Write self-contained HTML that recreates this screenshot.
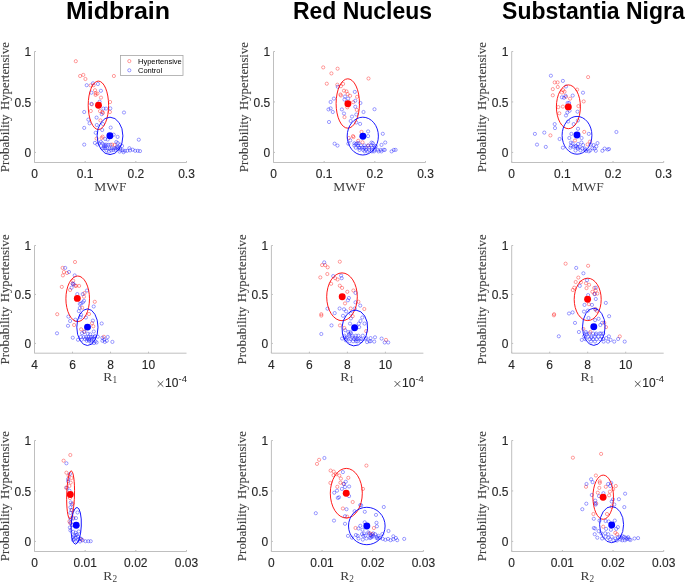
<!DOCTYPE html><html><head><meta charset="utf-8"><style>html,body{margin:0;padding:0;background:#fff;width:685px;height:583px;overflow:hidden}svg{display:block;filter:blur(0.3px)}</style></head><body><svg width="685" height="583" viewBox="0 0 685 583">
<g transform="translate(0 18.8) scale(1 1.035)"><text transform="translate(65.90 0.00) scale(1.087 1)" style="font-family:'Liberation Sans',sans-serif;font-size:23.0px;font-weight:bold;font-kerning:none" fill="#000">Midbrain</text></g>
<g transform="translate(0 18.8) scale(1 1.035)"><text x="292.90" y="0.00" style="font-family:'Liberation Sans',sans-serif;font-size:23.0px;font-weight:bold;font-kerning:none" fill="#000">Red Nucleus</text></g>
<g transform="translate(0 18.8) scale(1 1.035)"><text x="502.10" y="0.00" style="font-family:'Liberation Sans',sans-serif;font-size:23.0px;font-weight:bold;font-kerning:none" fill="#000">Substantia Nigra</text></g>
<path d="M34.5 51.5V162.5H186.5" fill="none" stroke="#bfbfbf" stroke-width="1"/>
<path d="M34.5 51.50h1.5" stroke="#bfbfbf" stroke-width="1"/>
<text transform="translate(24.61 56.40) scale(0.955 1)" style="font-family:'Liberation Sans',sans-serif;font-size:12.6px;font-weight:normal;font-kerning:none" fill="#262626" stroke="#262626" stroke-width="0.12">1</text>
<path d="M34.5 101.95h1.5" stroke="#bfbfbf" stroke-width="1"/>
<text transform="translate(14.57 106.85) scale(0.955 1)" style="font-family:'Liberation Sans',sans-serif;font-size:12.6px;font-weight:normal;font-kerning:none" fill="#262626" stroke="#262626" stroke-width="0.12">0.5</text>
<path d="M34.5 152.41h1.5" stroke="#bfbfbf" stroke-width="1"/>
<text transform="translate(24.61 157.31) scale(0.955 1)" style="font-family:'Liberation Sans',sans-serif;font-size:12.6px;font-weight:normal;font-kerning:none" fill="#262626" stroke="#262626" stroke-width="0.12">0</text>
<path d="M34.50 162.5v-1.5" stroke="#bfbfbf" stroke-width="1"/>
<text transform="translate(31.15 177.95) scale(0.955 1)" style="font-family:'Liberation Sans',sans-serif;font-size:12.6px;font-weight:normal;font-kerning:none" fill="#262626" stroke="#262626" stroke-width="0.12">0</text>
<path d="M85.17 162.5v-1.5" stroke="#bfbfbf" stroke-width="1"/>
<text transform="translate(76.80 177.95) scale(0.955 1)" style="font-family:'Liberation Sans',sans-serif;font-size:12.6px;font-weight:normal;font-kerning:none" fill="#262626" stroke="#262626" stroke-width="0.12">0.1</text>
<path d="M135.83 162.5v-1.5" stroke="#bfbfbf" stroke-width="1"/>
<text transform="translate(127.47 177.95) scale(0.955 1)" style="font-family:'Liberation Sans',sans-serif;font-size:12.6px;font-weight:normal;font-kerning:none" fill="#262626" stroke="#262626" stroke-width="0.12">0.2</text>
<path d="M186.50 162.5v-1.5" stroke="#bfbfbf" stroke-width="1"/>
<text transform="translate(178.14 177.95) scale(0.955 1)" style="font-family:'Liberation Sans',sans-serif;font-size:12.6px;font-weight:normal;font-kerning:none" fill="#262626" stroke="#262626" stroke-width="0.12">0.3</text>
<g transform="translate(9.00 107.00) rotate(-90)"><text x="-65.17" y="0.00" style="font-family:'Liberation Serif',serif;font-size:13.0px;font-weight:normal;font-kerning:none" fill="#404040" stroke="#404040" stroke-width="0.12">Probability</text><text transform="translate(-2.94 0.00) scale(0.98 1)" style="font-family:'Liberation Serif',serif;font-size:13.0px;font-weight:normal;font-kerning:none" fill="#404040" stroke="#404040" stroke-width="0.12">Hypertensive</text></g>
<text x="94.37" y="190.80" style="font-family:'Liberation Serif',serif;font-size:13.5px;font-weight:normal;font-kerning:none" fill="#404040">MWF</text>
<g fill="none" stroke="#ff0000" stroke-opacity="0.55" stroke-width="0.7"><circle cx="75.8" cy="61.2" r="1.6"/><circle cx="80.1" cy="76.0" r="1.6"/><circle cx="83.3" cy="74.9" r="1.6"/><circle cx="85.4" cy="79.0" r="1.6"/><circle cx="113.9" cy="76.0" r="1.6"/><circle cx="90.6" cy="85.4" r="1.6"/><circle cx="93.6" cy="85.2" r="1.6"/><circle cx="95.0" cy="90.2" r="1.6"/><circle cx="95.7" cy="93.2" r="1.6"/><circle cx="97.4" cy="93.6" r="1.6"/><circle cx="95.6" cy="94.9" r="1.6"/><circle cx="101.0" cy="97.6" r="1.6"/><circle cx="110.1" cy="102" r="1.6"/><circle cx="91.9" cy="104.3" r="1.6"/><circle cx="90.8" cy="111" r="1.6"/><circle cx="100" cy="111.1" r="1.6"/><circle cx="102.2" cy="112" r="1.6"/><circle cx="103" cy="112.9" r="1.6"/><circle cx="109.9" cy="112" r="1.6"/><circle cx="100.4" cy="120.4" r="1.6"/><circle cx="102.6" cy="136.7" r="1.6"/><circle cx="96.6" cy="138.6" r="1.6"/><circle cx="112" cy="144.6" r="1.6"/><circle cx="114.6" cy="145" r="1.6"/><circle cx="101.6" cy="138" r="1.6"/></g>
<g fill="none" stroke="#0000ff" stroke-opacity="0.55" stroke-width="0.7"><circle cx="86.7" cy="85.2" r="1.6"/><circle cx="93.0" cy="83.3" r="1.6"/><circle cx="97.9" cy="84.0" r="1.6"/><circle cx="91.4" cy="92.7" r="1.6"/><circle cx="100.9" cy="90.8" r="1.6"/><circle cx="99.6" cy="101.7" r="1.6"/><circle cx="91.4" cy="103.9" r="1.6"/><circle cx="103.4" cy="108.6" r="1.6"/><circle cx="106" cy="108.6" r="1.6"/><circle cx="110.3" cy="108.4" r="1.6"/><circle cx="84.2" cy="112" r="1.6"/><circle cx="101.7" cy="114.2" r="1.6"/><circle cx="96.6" cy="117.6" r="1.6"/><circle cx="88.4" cy="119.6" r="1.6"/><circle cx="89.6" cy="123.3" r="1.6"/><circle cx="96.8" cy="125" r="1.6"/><circle cx="103" cy="124" r="1.6"/><circle cx="84.2" cy="127.9" r="1.6"/><circle cx="110.7" cy="127.6" r="1.6"/><circle cx="102.2" cy="130" r="1.6"/><circle cx="95.7" cy="132.8" r="1.6"/><circle cx="113.7" cy="134.7" r="1.6"/><circle cx="117.6" cy="136.9" r="1.6"/><circle cx="105.2" cy="139" r="1.6"/><circle cx="107.7" cy="139.5" r="1.6"/><circle cx="94.9" cy="142.9" r="1.6"/><circle cx="97.4" cy="144.6" r="1.6"/><circle cx="84.2" cy="144.6" r="1.6"/><circle cx="116.3" cy="142" r="1.6"/><circle cx="100.8" cy="141.9" r="1.6"/><circle cx="99.4" cy="143.4" r="1.6"/><circle cx="102.3" cy="143.4" r="1.6"/><circle cx="108.1" cy="144.8" r="1.6"/><circle cx="110.3" cy="144.8" r="1.6"/><circle cx="138.8" cy="139.7" r="1.6"/><circle cx="106" cy="144.6" r="1.6"/><circle cx="102.4" cy="148.3" r="1.6"/><circle cx="105.3" cy="148.3" r="1.6"/><circle cx="107.5" cy="148.3" r="1.6"/><circle cx="109.7" cy="148.3" r="1.6"/><circle cx="111.9" cy="148.3" r="1.6"/><circle cx="114.1" cy="148.3" r="1.6"/><circle cx="115.9" cy="148.3" r="1.6"/><circle cx="117.7" cy="148.3" r="1.6"/><circle cx="119.9" cy="148.3" r="1.6"/><circle cx="111.1" cy="150.4" r="1.6"/><circle cx="113.3" cy="150" r="1.6"/><circle cx="115.5" cy="150" r="1.6"/><circle cx="122.1" cy="146" r="1.6"/><circle cx="120.6" cy="150" r="1.6"/><circle cx="122.8" cy="150.4" r="1.6"/><circle cx="125" cy="150.8" r="1.6"/><circle cx="127.2" cy="150.8" r="1.6"/><circle cx="129.4" cy="148.2" r="1.6"/><circle cx="130.1" cy="150.4" r="1.6"/><circle cx="132.7" cy="149.7" r="1.6"/><circle cx="135.2" cy="150.8" r="1.6"/><circle cx="137.8" cy="150.8" r="1.6"/><circle cx="140" cy="151.1" r="1.6"/><circle cx="123.5" cy="152.2" r="1.6"/><circle cx="117.7" cy="143.1" r="1.6"/><circle cx="104" cy="146.5" r="1.6"/><circle cx="106.5" cy="150.5" r="1.6"/><circle cx="109" cy="151.5" r="1.6"/><circle cx="124" cy="112.5" r="1.6"/><circle cx="120.2" cy="144.6" r="1.6"/><circle cx="117.0" cy="146.9" r="1.6"/><circle cx="103.6" cy="148.1" r="1.6"/><circle cx="104.0" cy="144.7" r="1.6"/><circle cx="105.5" cy="145.8" r="1.6"/><circle cx="119.6" cy="151.6" r="1.6"/><circle cx="118.2" cy="147.2" r="1.6"/></g>
<ellipse cx="98.4" cy="105.3" rx="10.2" ry="24.2" fill="none" stroke="#ff0000" stroke-width="0.9"/>
<ellipse cx="110.0" cy="135.9" rx="12.9" ry="18.7" fill="none" stroke="#0000ff" stroke-width="0.9"/>
<circle cx="98.5" cy="105.3" r="3.45" fill="#ff0000"/>
<circle cx="109.9" cy="135.8" r="3.45" fill="#0000ff"/>
<rect x="120.5" y="55.5" width="62.5" height="20" fill="#fff" stroke="#a6a6a6" stroke-width="0.8"/>
<circle cx="129.3" cy="61.1" r="1.6" fill="none" stroke="#ff0000" stroke-opacity="0.55" stroke-width="0.7"/>
<circle cx="129.3" cy="70.3" r="1.6" fill="none" stroke="#0000ff" stroke-opacity="0.55" stroke-width="0.7"/>
<text x="138.00" y="63.60" style="font-family:'Liberation Sans',sans-serif;font-size:7.5px;font-weight:normal;font-kerning:none" fill="#000">Hypertensive</text>
<text x="138.00" y="72.80" style="font-family:'Liberation Sans',sans-serif;font-size:7.5px;font-weight:normal;font-kerning:none" fill="#000">Control</text>
<path d="M273.5 51.5V162.5H425.5" fill="none" stroke="#bfbfbf" stroke-width="1"/>
<path d="M273.5 51.50h1.5" stroke="#bfbfbf" stroke-width="1"/>
<text transform="translate(263.61 56.40) scale(0.955 1)" style="font-family:'Liberation Sans',sans-serif;font-size:12.6px;font-weight:normal;font-kerning:none" fill="#262626" stroke="#262626" stroke-width="0.12">1</text>
<path d="M273.5 101.95h1.5" stroke="#bfbfbf" stroke-width="1"/>
<text transform="translate(253.57 106.85) scale(0.955 1)" style="font-family:'Liberation Sans',sans-serif;font-size:12.6px;font-weight:normal;font-kerning:none" fill="#262626" stroke="#262626" stroke-width="0.12">0.5</text>
<path d="M273.5 152.41h1.5" stroke="#bfbfbf" stroke-width="1"/>
<text transform="translate(263.61 157.31) scale(0.955 1)" style="font-family:'Liberation Sans',sans-serif;font-size:12.6px;font-weight:normal;font-kerning:none" fill="#262626" stroke="#262626" stroke-width="0.12">0</text>
<path d="M273.50 162.5v-1.5" stroke="#bfbfbf" stroke-width="1"/>
<text transform="translate(270.15 177.95) scale(0.955 1)" style="font-family:'Liberation Sans',sans-serif;font-size:12.6px;font-weight:normal;font-kerning:none" fill="#262626" stroke="#262626" stroke-width="0.12">0</text>
<path d="M324.17 162.5v-1.5" stroke="#bfbfbf" stroke-width="1"/>
<text transform="translate(315.80 177.95) scale(0.955 1)" style="font-family:'Liberation Sans',sans-serif;font-size:12.6px;font-weight:normal;font-kerning:none" fill="#262626" stroke="#262626" stroke-width="0.12">0.1</text>
<path d="M374.83 162.5v-1.5" stroke="#bfbfbf" stroke-width="1"/>
<text transform="translate(366.47 177.95) scale(0.955 1)" style="font-family:'Liberation Sans',sans-serif;font-size:12.6px;font-weight:normal;font-kerning:none" fill="#262626" stroke="#262626" stroke-width="0.12">0.2</text>
<path d="M425.50 162.5v-1.5" stroke="#bfbfbf" stroke-width="1"/>
<text transform="translate(417.14 177.95) scale(0.955 1)" style="font-family:'Liberation Sans',sans-serif;font-size:12.6px;font-weight:normal;font-kerning:none" fill="#262626" stroke="#262626" stroke-width="0.12">0.3</text>
<g transform="translate(248.00 107.00) rotate(-90)"><text x="-65.17" y="0.00" style="font-family:'Liberation Serif',serif;font-size:13.0px;font-weight:normal;font-kerning:none" fill="#404040" stroke="#404040" stroke-width="0.12">Probability</text><text transform="translate(-2.94 0.00) scale(0.98 1)" style="font-family:'Liberation Serif',serif;font-size:13.0px;font-weight:normal;font-kerning:none" fill="#404040" stroke="#404040" stroke-width="0.12">Hypertensive</text></g>
<text x="333.37" y="190.80" style="font-family:'Liberation Serif',serif;font-size:13.5px;font-weight:normal;font-kerning:none" fill="#404040">MWF</text>
<g fill="none" stroke="#ff0000" stroke-opacity="0.55" stroke-width="0.7"><circle cx="323.2" cy="67.4" r="1.6"/><circle cx="337.6" cy="68.7" r="1.6"/><circle cx="331.4" cy="73.4" r="1.6"/><circle cx="326.8" cy="83.7" r="1.6"/><circle cx="368.5" cy="78.5" r="1.6"/><circle cx="337.3" cy="84.7" r="1.6"/><circle cx="340.9" cy="86.2" r="1.6"/><circle cx="343.1" cy="83.9" r="1.6"/><circle cx="344" cy="90.7" r="1.6"/><circle cx="346.5" cy="91.4" r="1.6"/><circle cx="347.6" cy="94" r="1.6"/><circle cx="350.1" cy="95.8" r="1.6"/><circle cx="340.4" cy="94.5" r="1.6"/><circle cx="340.9" cy="95.5" r="1.6"/><circle cx="357.1" cy="96.8" r="1.6"/><circle cx="353.2" cy="102.2" r="1.6"/><circle cx="356.8" cy="109.9" r="1.6"/><circle cx="344.5" cy="117.1" r="1.6"/><circle cx="347.3" cy="107.3" r="1.6"/><circle cx="353" cy="136.1" r="1.6"/><circle cx="353.5" cy="137.1" r="1.6"/><circle cx="348.8" cy="138" r="1.6"/><circle cx="361.5" cy="131.9" r="1.6"/><circle cx="358.2" cy="140.8" r="1.6"/><circle cx="362.5" cy="142.3" r="1.6"/><circle cx="368.1" cy="145.6" r="1.6"/></g>
<g fill="none" stroke="#0000ff" stroke-opacity="0.55" stroke-width="0.7"><circle cx="337.8" cy="86.8" r="1.6"/><circle cx="354.8" cy="91.9" r="1.6"/><circle cx="345" cy="96.5" r="1.6"/><circle cx="348.1" cy="98.6" r="1.6"/><circle cx="344.5" cy="99.6" r="1.6"/><circle cx="333.9" cy="98.6" r="1.6"/><circle cx="330.6" cy="102" r="1.6"/><circle cx="355.3" cy="100.7" r="1.6"/><circle cx="360.4" cy="103" r="1.6"/><circle cx="355.3" cy="106.8" r="1.6"/><circle cx="328.5" cy="109.4" r="1.6"/><circle cx="330.6" cy="108.4" r="1.6"/><circle cx="332.8" cy="112" r="1.6"/><circle cx="341.9" cy="109.4" r="1.6"/><circle cx="344" cy="113.5" r="1.6"/><circle cx="363.5" cy="112" r="1.6"/><circle cx="356.3" cy="114.5" r="1.6"/><circle cx="352" cy="116.6" r="1.6"/><circle cx="374.5" cy="109.2" r="1.6"/><circle cx="329" cy="122" r="1.6"/><circle cx="350.7" cy="121" r="1.6"/><circle cx="356.3" cy="122.5" r="1.6"/><circle cx="360.1" cy="123.9" r="1.6"/><circle cx="368.1" cy="131.4" r="1.6"/><circle cx="368.1" cy="136.1" r="1.6"/><circle cx="350.2" cy="140.4" r="1.6"/><circle cx="334.6" cy="143.7" r="1.6"/><circle cx="337.5" cy="145.6" r="1.6"/><circle cx="348.3" cy="143.7" r="1.6"/><circle cx="372.8" cy="143.2" r="1.6"/><circle cx="382.8" cy="133.8" r="1.6"/><circle cx="393.8" cy="149.9" r="1.6"/><circle cx="391.6" cy="151.4" r="1.6"/><circle cx="395.6" cy="149.9" r="1.6"/><circle cx="384.8" cy="149.9" r="1.6"/><circle cx="354.4" cy="143.3" r="1.6"/><circle cx="357.3" cy="143.3" r="1.6"/><circle cx="354.4" cy="145.5" r="1.6"/><circle cx="358" cy="145.5" r="1.6"/><circle cx="361" cy="145.5" r="1.6"/><circle cx="364.6" cy="145.5" r="1.6"/><circle cx="368.2" cy="145.5" r="1.6"/><circle cx="371.2" cy="145.5" r="1.6"/><circle cx="355.8" cy="147.7" r="1.6"/><circle cx="358.8" cy="147.7" r="1.6"/><circle cx="362.4" cy="147.7" r="1.6"/><circle cx="365.3" cy="147.7" r="1.6"/><circle cx="369" cy="147.7" r="1.6"/><circle cx="371.9" cy="147.7" r="1.6"/><circle cx="374.8" cy="147.7" r="1.6"/><circle cx="359.5" cy="149.9" r="1.6"/><circle cx="363.1" cy="149.9" r="1.6"/><circle cx="366.1" cy="149.9" r="1.6"/><circle cx="369" cy="149.9" r="1.6"/><circle cx="371.9" cy="149.9" r="1.6"/><circle cx="374.8" cy="149.9" r="1.6"/><circle cx="377.7" cy="149.9" r="1.6"/><circle cx="380.7" cy="149.9" r="1.6"/><circle cx="383.6" cy="149.9" r="1.6"/><circle cx="364.6" cy="151.4" r="1.6"/><circle cx="367.5" cy="151.4" r="1.6"/><circle cx="371.9" cy="151.4" r="1.6"/><circle cx="374.1" cy="151.4" r="1.6"/><circle cx="378.5" cy="151.4" r="1.6"/><circle cx="381.4" cy="151.4" r="1.6"/><circle cx="385.2" cy="142.5" r="1.6"/><circle cx="381.5" cy="144.9" r="1.6"/><circle cx="358.6" cy="143.2" r="1.6"/><circle cx="359.8" cy="147.8" r="1.6"/><circle cx="374.4" cy="145.7" r="1.6"/><circle cx="371.5" cy="142.6" r="1.6"/><circle cx="355.9" cy="144.1" r="1.6"/><circle cx="375.8" cy="146.3" r="1.6"/><circle cx="364.1" cy="147.9" r="1.6"/></g>
<ellipse cx="347.8" cy="103.5" rx="11.7" ry="24.7" fill="none" stroke="#ff0000" stroke-width="0.9"/>
<ellipse cx="362.8" cy="136.1" rx="15.6" ry="18.9" fill="none" stroke="#0000ff" stroke-width="0.9"/>
<circle cx="347.9" cy="103.7" r="3.45" fill="#ff0000"/>
<circle cx="362.9" cy="136.2" r="3.45" fill="#0000ff"/>
<path d="M511.7 51.5V162.5H663.7" fill="none" stroke="#bfbfbf" stroke-width="1"/>
<path d="M511.7 51.50h1.5" stroke="#bfbfbf" stroke-width="1"/>
<text transform="translate(501.81 56.40) scale(0.955 1)" style="font-family:'Liberation Sans',sans-serif;font-size:12.6px;font-weight:normal;font-kerning:none" fill="#262626" stroke="#262626" stroke-width="0.12">1</text>
<path d="M511.7 101.95h1.5" stroke="#bfbfbf" stroke-width="1"/>
<text transform="translate(491.77 106.85) scale(0.955 1)" style="font-family:'Liberation Sans',sans-serif;font-size:12.6px;font-weight:normal;font-kerning:none" fill="#262626" stroke="#262626" stroke-width="0.12">0.5</text>
<path d="M511.7 152.41h1.5" stroke="#bfbfbf" stroke-width="1"/>
<text transform="translate(501.81 157.31) scale(0.955 1)" style="font-family:'Liberation Sans',sans-serif;font-size:12.6px;font-weight:normal;font-kerning:none" fill="#262626" stroke="#262626" stroke-width="0.12">0</text>
<path d="M511.70 162.5v-1.5" stroke="#bfbfbf" stroke-width="1"/>
<text transform="translate(508.35 177.95) scale(0.955 1)" style="font-family:'Liberation Sans',sans-serif;font-size:12.6px;font-weight:normal;font-kerning:none" fill="#262626" stroke="#262626" stroke-width="0.12">0</text>
<path d="M562.37 162.5v-1.5" stroke="#bfbfbf" stroke-width="1"/>
<text transform="translate(554.00 177.95) scale(0.955 1)" style="font-family:'Liberation Sans',sans-serif;font-size:12.6px;font-weight:normal;font-kerning:none" fill="#262626" stroke="#262626" stroke-width="0.12">0.1</text>
<path d="M613.03 162.5v-1.5" stroke="#bfbfbf" stroke-width="1"/>
<text transform="translate(604.67 177.95) scale(0.955 1)" style="font-family:'Liberation Sans',sans-serif;font-size:12.6px;font-weight:normal;font-kerning:none" fill="#262626" stroke="#262626" stroke-width="0.12">0.2</text>
<path d="M663.70 162.5v-1.5" stroke="#bfbfbf" stroke-width="1"/>
<text transform="translate(655.34 177.95) scale(0.955 1)" style="font-family:'Liberation Sans',sans-serif;font-size:12.6px;font-weight:normal;font-kerning:none" fill="#262626" stroke="#262626" stroke-width="0.12">0.3</text>
<g transform="translate(486.20 107.00) rotate(-90)"><text x="-65.17" y="0.00" style="font-family:'Liberation Serif',serif;font-size:13.0px;font-weight:normal;font-kerning:none" fill="#404040" stroke="#404040" stroke-width="0.12">Probability</text><text transform="translate(-2.94 0.00) scale(0.98 1)" style="font-family:'Liberation Serif',serif;font-size:13.0px;font-weight:normal;font-kerning:none" fill="#404040" stroke="#404040" stroke-width="0.12">Hypertensive</text></g>
<text x="571.57" y="190.80" style="font-family:'Liberation Serif',serif;font-size:13.5px;font-weight:normal;font-kerning:none" fill="#404040">MWF</text>
<g fill="none" stroke="#ff0000" stroke-opacity="0.55" stroke-width="0.7"><circle cx="588.1" cy="77.1" r="1.6"/><circle cx="554.7" cy="82.4" r="1.6"/><circle cx="557.6" cy="82.4" r="1.6"/><circle cx="557.8" cy="87" r="1.6"/><circle cx="552.8" cy="89.1" r="1.6"/><circle cx="552.8" cy="95.3" r="1.6"/><circle cx="563.1" cy="90.1" r="1.6"/><circle cx="564.5" cy="91.7" r="1.6"/><circle cx="561.9" cy="92.5" r="1.6"/><circle cx="577.1" cy="89.6" r="1.6"/><circle cx="570.1" cy="98.7" r="1.6"/><circle cx="566" cy="96.8" r="1.6"/><circle cx="583.7" cy="101.4" r="1.6"/><circle cx="558.3" cy="107.1" r="1.6"/><circle cx="562.9" cy="106.6" r="1.6"/><circle cx="578.4" cy="106.1" r="1.6"/><circle cx="559.3" cy="113.3" r="1.6"/><circle cx="550.4" cy="135.4" r="1.6"/><circle cx="584.2" cy="131.9" r="1.6"/><circle cx="575" cy="140.5" r="1.6"/><circle cx="587.6" cy="144.4" r="1.6"/><circle cx="590" cy="141.6" r="1.6"/></g>
<g fill="none" stroke="#0000ff" stroke-opacity="0.55" stroke-width="0.7"><circle cx="550.9" cy="75.7" r="1.6"/><circle cx="562.9" cy="80.9" r="1.6"/><circle cx="566" cy="86.5" r="1.6"/><circle cx="583" cy="92.7" r="1.6"/><circle cx="572.7" cy="95.6" r="1.6"/><circle cx="561.9" cy="97.3" r="1.6"/><circle cx="564" cy="97.8" r="1.6"/><circle cx="565.5" cy="95.8" r="1.6"/><circle cx="567.6" cy="103" r="1.6"/><circle cx="569.1" cy="103" r="1.6"/><circle cx="569.6" cy="110.7" r="1.6"/><circle cx="567.3" cy="112.5" r="1.6"/><circle cx="577.5" cy="111.7" r="1.6"/><circle cx="566" cy="115.5" r="1.6"/><circle cx="577.9" cy="120.5" r="1.6"/><circle cx="568.1" cy="121.5" r="1.6"/><circle cx="554.7" cy="124.1" r="1.6"/><circle cx="573.7" cy="124.1" r="1.6"/><circle cx="534.9" cy="133.9" r="1.6"/><circle cx="544.3" cy="132.6" r="1.6"/><circle cx="555" cy="128.1" r="1.6"/><circle cx="537" cy="144.6" r="1.6"/><circle cx="545.8" cy="146.9" r="1.6"/><circle cx="559.6" cy="139" r="1.6"/><circle cx="562.9" cy="147.7" r="1.6"/><circle cx="578" cy="128.8" r="1.6"/><circle cx="588.8" cy="133.9" r="1.6"/><circle cx="571.4" cy="133.9" r="1.6"/><circle cx="569.3" cy="138" r="1.6"/><circle cx="581.6" cy="138" r="1.6"/><circle cx="570.9" cy="142.6" r="1.6"/><circle cx="570.9" cy="145.7" r="1.6"/><circle cx="570.4" cy="147.7" r="1.6"/><circle cx="616.4" cy="132" r="1.6"/><circle cx="581.4" cy="142.5" r="1.6"/><circle cx="583.1" cy="145.1" r="1.6"/><circle cx="579.6" cy="146.9" r="1.6"/><circle cx="582.3" cy="148.6" r="1.6"/><circle cx="577.9" cy="148.6" r="1.6"/><circle cx="580.5" cy="150.4" r="1.6"/><circle cx="584.9" cy="148.6" r="1.6"/><circle cx="572.6" cy="143.4" r="1.6"/><circle cx="573.5" cy="146.9" r="1.6"/><circle cx="576.1" cy="146" r="1.6"/><circle cx="588.8" cy="151.3" r="1.6"/><circle cx="590.1" cy="150.4" r="1.6"/><circle cx="593.6" cy="145.1" r="1.6"/><circle cx="596.3" cy="146.5" r="1.6"/><circle cx="594.5" cy="148.6" r="1.6"/><circle cx="595.8" cy="150.8" r="1.6"/><circle cx="602.4" cy="150.8" r="1.6"/><circle cx="604.6" cy="148.6" r="1.6"/><circle cx="607.7" cy="149.5" r="1.6"/><circle cx="609" cy="149.1" r="1.6"/><circle cx="575.5" cy="150.5" r="1.6"/><circle cx="586" cy="151" r="1.6"/><circle cx="578" cy="144" r="1.6"/><circle cx="592.4" cy="148.3" r="1.6"/><circle cx="577.6" cy="147.2" r="1.6"/><circle cx="585.2" cy="149.9" r="1.6"/><circle cx="590.7" cy="144.6" r="1.6"/><circle cx="597.5" cy="143.1" r="1.6"/><circle cx="575.1" cy="146.4" r="1.6"/></g>
<ellipse cx="568.4" cy="106.8" rx="12.0" ry="21.9" fill="none" stroke="#ff0000" stroke-width="0.9"/>
<ellipse cx="577.0" cy="135.3" rx="14.9" ry="18.9" fill="none" stroke="#0000ff" stroke-width="0.9"/>
<circle cx="568.3" cy="106.9" r="3.45" fill="#ff0000"/>
<circle cx="577.0" cy="135.0" r="3.45" fill="#0000ff"/>
<path d="M34.5 245.5V353.2H186.5" fill="none" stroke="#bfbfbf" stroke-width="1"/>
<path d="M34.5 245.50h1.5" stroke="#bfbfbf" stroke-width="1"/>
<text transform="translate(24.61 250.40) scale(0.955 1)" style="font-family:'Liberation Sans',sans-serif;font-size:12.6px;font-weight:normal;font-kerning:none" fill="#262626" stroke="#262626" stroke-width="0.12">1</text>
<path d="M34.5 294.45h1.5" stroke="#bfbfbf" stroke-width="1"/>
<text transform="translate(14.57 299.35) scale(0.955 1)" style="font-family:'Liberation Sans',sans-serif;font-size:12.6px;font-weight:normal;font-kerning:none" fill="#262626" stroke="#262626" stroke-width="0.12">0.5</text>
<path d="M34.5 343.41h1.5" stroke="#bfbfbf" stroke-width="1"/>
<text transform="translate(24.61 348.31) scale(0.955 1)" style="font-family:'Liberation Sans',sans-serif;font-size:12.6px;font-weight:normal;font-kerning:none" fill="#262626" stroke="#262626" stroke-width="0.12">0</text>
<path d="M34.50 353.2v-1.5" stroke="#bfbfbf" stroke-width="1"/>
<text transform="translate(31.15 369.15) scale(0.955 1)" style="font-family:'Liberation Sans',sans-serif;font-size:12.6px;font-weight:normal;font-kerning:none" fill="#262626" stroke="#262626" stroke-width="0.12">4</text>
<path d="M72.50 353.2v-1.5" stroke="#bfbfbf" stroke-width="1"/>
<text transform="translate(69.15 369.15) scale(0.955 1)" style="font-family:'Liberation Sans',sans-serif;font-size:12.6px;font-weight:normal;font-kerning:none" fill="#262626" stroke="#262626" stroke-width="0.12">6</text>
<path d="M110.50 353.2v-1.5" stroke="#bfbfbf" stroke-width="1"/>
<text transform="translate(107.15 369.15) scale(0.955 1)" style="font-family:'Liberation Sans',sans-serif;font-size:12.6px;font-weight:normal;font-kerning:none" fill="#262626" stroke="#262626" stroke-width="0.12">8</text>
<path d="M148.50 353.2v-1.5" stroke="#bfbfbf" stroke-width="1"/>
<text transform="translate(141.81 369.15) scale(0.955 1)" style="font-family:'Liberation Sans',sans-serif;font-size:12.6px;font-weight:normal;font-kerning:none" fill="#262626" stroke="#262626" stroke-width="0.12">10</text>
<g transform="translate(9.00 299.35) rotate(-90)"><text x="-65.17" y="0.00" style="font-family:'Liberation Serif',serif;font-size:13.0px;font-weight:normal;font-kerning:none" fill="#404040" stroke="#404040" stroke-width="0.12">Probability</text><text transform="translate(-2.94 0.00) scale(0.98 1)" style="font-family:'Liberation Serif',serif;font-size:13.0px;font-weight:normal;font-kerning:none" fill="#404040" stroke="#404040" stroke-width="0.12">Hypertensive</text></g>
<text x="103.37" y="381.40" style="font-family:'Liberation Serif',serif;font-size:13.5px;font-weight:normal;font-kerning:none" fill="#404040">R</text>
<text x="112.38" y="383.20" style="font-family:'Liberation Serif',serif;font-size:9.3px;font-weight:normal;font-kerning:none" fill="#404040">1</text>
<path d="M157.7 381.1l5.6 5.6m0 -5.6l-5.6 5.6" stroke="#333" stroke-width="0.85" fill="none"/>
<text transform="translate(165.10 386.80) scale(0.955 1)" style="font-family:'Liberation Sans',sans-serif;font-size:12.6px;font-weight:normal;font-kerning:none" fill="#262626" stroke="#262626" stroke-width="0.12">10</text>
<text x="178.48" y="381.70" style="font-family:'Liberation Sans',sans-serif;font-size:9.5px;font-weight:normal;font-kerning:none" fill="#262626">-4</text>
<g fill="none" stroke="#ff0000" stroke-opacity="0.55" stroke-width="0.7"><circle cx="75" cy="262" r="1.6"/><circle cx="62.6" cy="267.9" r="1.6"/><circle cx="63.9" cy="272" r="1.6"/><circle cx="67" cy="273" r="1.6"/><circle cx="62.9" cy="275.4" r="1.6"/><circle cx="61.8" cy="286.9" r="1.6"/><circle cx="73.2" cy="280.7" r="1.6"/><circle cx="72.6" cy="283.8" r="1.6"/><circle cx="75.2" cy="285.7" r="1.6"/><circle cx="76.2" cy="285.9" r="1.6"/><circle cx="79.1" cy="285.9" r="1.6"/><circle cx="70.1" cy="290" r="1.6"/><circle cx="84.5" cy="293.1" r="1.6"/><circle cx="84" cy="296.7" r="1.6"/><circle cx="94.8" cy="301.8" r="1.6"/><circle cx="82.1" cy="307.7" r="1.6"/><circle cx="57.2" cy="314.2" r="1.6"/><circle cx="89" cy="314" r="1.6"/><circle cx="74.1" cy="325" r="1.6"/><circle cx="92" cy="323.2" r="1.6"/><circle cx="93.3" cy="326.3" r="1.6"/><circle cx="81.1" cy="329.3" r="1.6"/><circle cx="84.2" cy="331.5" r="1.6"/><circle cx="103.9" cy="336.8" r="1.6"/></g>
<g fill="none" stroke="#0000ff" stroke-opacity="0.55" stroke-width="0.7"><circle cx="65.2" cy="267.9" r="1.6"/><circle cx="69" cy="272" r="1.6"/><circle cx="74.7" cy="275.4" r="1.6"/><circle cx="72.8" cy="283.6" r="1.6"/><circle cx="73.7" cy="284.3" r="1.6"/><circle cx="71.6" cy="287.7" r="1.6"/><circle cx="87" cy="290.5" r="1.6"/><circle cx="82.7" cy="294.1" r="1.6"/><circle cx="77.3" cy="294.1" r="1.6"/><circle cx="84" cy="300.8" r="1.6"/><circle cx="82.9" cy="302.3" r="1.6"/><circle cx="79.8" cy="303.9" r="1.6"/><circle cx="93.7" cy="306.5" r="1.6"/><circle cx="79.8" cy="308" r="1.6"/><circle cx="78.8" cy="311.1" r="1.6"/><circle cx="81.1" cy="303.5" r="1.6"/><circle cx="81.1" cy="314.9" r="1.6"/><circle cx="80.6" cy="317.1" r="1.6"/><circle cx="85.9" cy="317.5" r="1.6"/><circle cx="68.4" cy="316.6" r="1.6"/><circle cx="70.1" cy="321" r="1.6"/><circle cx="75.4" cy="319.7" r="1.6"/><circle cx="68" cy="325.8" r="1.6"/><circle cx="92.9" cy="320.6" r="1.6"/><circle cx="101.7" cy="323.5" r="1.6"/><circle cx="57" cy="333.3" r="1.6"/><circle cx="72.8" cy="337.7" r="1.6"/><circle cx="93.8" cy="331.5" r="1.6"/><circle cx="78" cy="339.8" r="1.6"/><circle cx="87.8" cy="333.8" r="1.6"/><circle cx="90.2" cy="334.3" r="1.6"/><circle cx="82" cy="333.2" r="1.6"/><circle cx="84.3" cy="332" r="1.6"/><circle cx="80.8" cy="337" r="1.6"/><circle cx="83.8" cy="337" r="1.6"/><circle cx="86.1" cy="337" r="1.6"/><circle cx="88.4" cy="337" r="1.6"/><circle cx="90.8" cy="337" r="1.6"/><circle cx="92.5" cy="337" r="1.6"/><circle cx="94.3" cy="337" r="1.6"/><circle cx="84.9" cy="339" r="1.6"/><circle cx="87.3" cy="339" r="1.6"/><circle cx="89.6" cy="339" r="1.6"/><circle cx="91.9" cy="339" r="1.6"/><circle cx="93.7" cy="339" r="1.6"/><circle cx="86.7" cy="340.8" r="1.6"/><circle cx="89" cy="340.8" r="1.6"/><circle cx="91.4" cy="340.8" r="1.6"/><circle cx="97.8" cy="336.7" r="1.6"/><circle cx="95.4" cy="341.4" r="1.6"/><circle cx="96.6" cy="342.5" r="1.6"/><circle cx="102.4" cy="337.8" r="1.6"/><circle cx="102.4" cy="340.8" r="1.6"/><circle cx="104.2" cy="339.6" r="1.6"/><circle cx="104.8" cy="341.9" r="1.6"/><circle cx="106.8" cy="340.8" r="1.6"/><circle cx="107.7" cy="337" r="1.6"/><circle cx="112.4" cy="341.9" r="1.6"/><circle cx="94" cy="343.1" r="1.6"/><circle cx="81.6" cy="339.7" r="1.6"/><circle cx="95.0" cy="336.1" r="1.6"/><circle cx="88.6" cy="339.6" r="1.6"/><circle cx="91.4" cy="342.9" r="1.6"/></g>
<ellipse cx="77.7" cy="298.8" rx="11.8" ry="22.8" fill="none" stroke="#ff0000" stroke-width="0.9"/>
<ellipse cx="87.4" cy="327.2" rx="10.6" ry="18.3" fill="none" stroke="#0000ff" stroke-width="0.9"/>
<circle cx="77.3" cy="298.4" r="3.45" fill="#ff0000"/>
<circle cx="87.5" cy="327.1" r="3.45" fill="#0000ff"/>
<path d="M271.4 245.5V353.2H423.4" fill="none" stroke="#bfbfbf" stroke-width="1"/>
<path d="M271.4 245.50h1.5" stroke="#bfbfbf" stroke-width="1"/>
<text transform="translate(261.51 250.40) scale(0.955 1)" style="font-family:'Liberation Sans',sans-serif;font-size:12.6px;font-weight:normal;font-kerning:none" fill="#262626" stroke="#262626" stroke-width="0.12">1</text>
<path d="M271.4 294.45h1.5" stroke="#bfbfbf" stroke-width="1"/>
<text transform="translate(251.47 299.35) scale(0.955 1)" style="font-family:'Liberation Sans',sans-serif;font-size:12.6px;font-weight:normal;font-kerning:none" fill="#262626" stroke="#262626" stroke-width="0.12">0.5</text>
<path d="M271.4 343.41h1.5" stroke="#bfbfbf" stroke-width="1"/>
<text transform="translate(261.51 348.31) scale(0.955 1)" style="font-family:'Liberation Sans',sans-serif;font-size:12.6px;font-weight:normal;font-kerning:none" fill="#262626" stroke="#262626" stroke-width="0.12">0</text>
<path d="M271.40 353.2v-1.5" stroke="#bfbfbf" stroke-width="1"/>
<text transform="translate(268.05 369.15) scale(0.955 1)" style="font-family:'Liberation Sans',sans-serif;font-size:12.6px;font-weight:normal;font-kerning:none" fill="#262626" stroke="#262626" stroke-width="0.12">4</text>
<path d="M309.40 353.2v-1.5" stroke="#bfbfbf" stroke-width="1"/>
<text transform="translate(306.05 369.15) scale(0.955 1)" style="font-family:'Liberation Sans',sans-serif;font-size:12.6px;font-weight:normal;font-kerning:none" fill="#262626" stroke="#262626" stroke-width="0.12">6</text>
<path d="M347.40 353.2v-1.5" stroke="#bfbfbf" stroke-width="1"/>
<text transform="translate(344.05 369.15) scale(0.955 1)" style="font-family:'Liberation Sans',sans-serif;font-size:12.6px;font-weight:normal;font-kerning:none" fill="#262626" stroke="#262626" stroke-width="0.12">8</text>
<path d="M385.40 353.2v-1.5" stroke="#bfbfbf" stroke-width="1"/>
<text transform="translate(378.71 369.15) scale(0.955 1)" style="font-family:'Liberation Sans',sans-serif;font-size:12.6px;font-weight:normal;font-kerning:none" fill="#262626" stroke="#262626" stroke-width="0.12">10</text>
<g transform="translate(245.90 299.35) rotate(-90)"><text x="-65.17" y="0.00" style="font-family:'Liberation Serif',serif;font-size:13.0px;font-weight:normal;font-kerning:none" fill="#404040" stroke="#404040" stroke-width="0.12">Probability</text><text transform="translate(-2.94 0.00) scale(0.98 1)" style="font-family:'Liberation Serif',serif;font-size:13.0px;font-weight:normal;font-kerning:none" fill="#404040" stroke="#404040" stroke-width="0.12">Hypertensive</text></g>
<text x="340.27" y="381.40" style="font-family:'Liberation Serif',serif;font-size:13.5px;font-weight:normal;font-kerning:none" fill="#404040">R</text>
<text x="349.28" y="383.20" style="font-family:'Liberation Serif',serif;font-size:9.3px;font-weight:normal;font-kerning:none" fill="#404040">1</text>
<path d="M394.6 381.1l5.6 5.6m0 -5.6l-5.6 5.6" stroke="#333" stroke-width="0.85" fill="none"/>
<text transform="translate(402.00 386.80) scale(0.955 1)" style="font-family:'Liberation Sans',sans-serif;font-size:12.6px;font-weight:normal;font-kerning:none" fill="#262626" stroke="#262626" stroke-width="0.12">10</text>
<text x="415.38" y="381.70" style="font-family:'Liberation Sans',sans-serif;font-size:9.5px;font-weight:normal;font-kerning:none" fill="#262626">-4</text>
<g fill="none" stroke="#ff0000" stroke-opacity="0.55" stroke-width="0.7"><circle cx="339.8" cy="261.7" r="1.6"/><circle cx="322.1" cy="265.1" r="1.6"/><circle cx="325.2" cy="265.1" r="1.6"/><circle cx="327.7" cy="267.3" r="1.6"/><circle cx="327.3" cy="274" r="1.6"/><circle cx="320.3" cy="277.4" r="1.6"/><circle cx="335.2" cy="278.2" r="1.6"/><circle cx="337.6" cy="279.5" r="1.6"/><circle cx="331.1" cy="283.8" r="1.6"/><circle cx="339.8" cy="285.7" r="1.6"/><circle cx="342.1" cy="287.9" r="1.6"/><circle cx="347.3" cy="291.8" r="1.6"/><circle cx="353.4" cy="290.5" r="1.6"/><circle cx="345" cy="303.4" r="1.6"/><circle cx="358.4" cy="301.8" r="1.6"/><circle cx="364.3" cy="309" r="1.6"/><circle cx="350.7" cy="308.5" r="1.6"/><circle cx="321.3" cy="314.2" r="1.6"/><circle cx="321.3" cy="315.6" r="1.6"/><circle cx="352.7" cy="316.2" r="1.6"/><circle cx="340" cy="325.4" r="1.6"/><circle cx="344.3" cy="328" r="1.6"/><circle cx="366.2" cy="331.1" r="1.6"/><circle cx="386" cy="339.9" r="1.6"/></g>
<g fill="none" stroke="#0000ff" stroke-opacity="0.55" stroke-width="0.7"><circle cx="324.2" cy="262.4" r="1.6"/><circle cx="333.2" cy="276.1" r="1.6"/><circle cx="341.1" cy="275.6" r="1.6"/><circle cx="341.7" cy="278.2" r="1.6"/><circle cx="355.5" cy="292.9" r="1.6"/><circle cx="348.9" cy="298" r="1.6"/><circle cx="347.9" cy="300.3" r="1.6"/><circle cx="355.5" cy="302.3" r="1.6"/><circle cx="360.2" cy="305.6" r="1.6"/><circle cx="327.5" cy="308.7" r="1.6"/><circle cx="339.6" cy="308.5" r="1.6"/><circle cx="344" cy="309.3" r="1.6"/><circle cx="354.8" cy="308.5" r="1.6"/><circle cx="334.7" cy="313.1" r="1.6"/><circle cx="346.1" cy="311.4" r="1.6"/><circle cx="343" cy="315.8" r="1.6"/><circle cx="350.9" cy="313.6" r="1.6"/><circle cx="350.9" cy="318.4" r="1.6"/><circle cx="331.5" cy="325.4" r="1.6"/><circle cx="321.3" cy="334" r="1.6"/><circle cx="362.3" cy="317.5" r="1.6"/><circle cx="360.5" cy="321" r="1.6"/><circle cx="358.8" cy="323.6" r="1.6"/><circle cx="359.2" cy="327.1" r="1.6"/><circle cx="364.5" cy="323.6" r="1.6"/><circle cx="350" cy="323.6" r="1.6"/><circle cx="345.2" cy="330.2" r="1.6"/><circle cx="348.3" cy="332" r="1.6"/><circle cx="350.9" cy="333.3" r="1.6"/><circle cx="342.1" cy="338.5" r="1.6"/><circle cx="350.5" cy="332" r="1.6"/><circle cx="344.4" cy="335.7" r="1.6"/><circle cx="348.8" cy="335.7" r="1.6"/><circle cx="352.3" cy="335.7" r="1.6"/><circle cx="355.8" cy="335.7" r="1.6"/><circle cx="358.4" cy="335.7" r="1.6"/><circle cx="362.8" cy="335.7" r="1.6"/><circle cx="346.1" cy="339" r="1.6"/><circle cx="350.5" cy="339" r="1.6"/><circle cx="354" cy="339" r="1.6"/><circle cx="357.5" cy="339" r="1.6"/><circle cx="361" cy="339" r="1.6"/><circle cx="365.4" cy="339" r="1.6"/><circle cx="349.6" cy="341.3" r="1.6"/><circle cx="353.1" cy="341.3" r="1.6"/><circle cx="357.5" cy="341.3" r="1.6"/><circle cx="361" cy="341.3" r="1.6"/><circle cx="366.3" cy="338.1" r="1.6"/><circle cx="370.6" cy="338.1" r="1.6"/><circle cx="375" cy="337.3" r="1.6"/><circle cx="367.1" cy="342.1" r="1.6"/><circle cx="370.6" cy="341.2" r="1.6"/><circle cx="374.2" cy="341.6" r="1.6"/><circle cx="381.6" cy="338.6" r="1.6"/><circle cx="384.7" cy="342.5" r="1.6"/><circle cx="388.2" cy="342.5" r="1.6"/><circle cx="352" cy="337.5" r="1.6"/><circle cx="355.5" cy="337.8" r="1.6"/><circle cx="359.5" cy="338.3" r="1.6"/><circle cx="347" cy="337.5" r="1.6"/><circle cx="356.0" cy="339.4" r="1.6"/><circle cx="344.7" cy="337.4" r="1.6"/><circle cx="349.2" cy="334.1" r="1.6"/><circle cx="345.8" cy="340.3" r="1.6"/><circle cx="356.1" cy="341.3" r="1.6"/><circle cx="369.4" cy="341.2" r="1.6"/></g>
<ellipse cx="342.0" cy="296.8" rx="15.3" ry="23.9" fill="none" stroke="#ff0000" stroke-width="0.9"/>
<ellipse cx="354.8" cy="328.0" rx="12.8" ry="17.9" transform="rotate(4 354.8 328.0)" fill="none" stroke="#0000ff" stroke-width="0.9"/>
<circle cx="342.2" cy="296.8" r="3.45" fill="#ff0000"/>
<circle cx="354.6" cy="327.8" r="3.45" fill="#0000ff"/>
<path d="M511.7 245.5V353.2H663.7" fill="none" stroke="#bfbfbf" stroke-width="1"/>
<path d="M511.7 245.50h1.5" stroke="#bfbfbf" stroke-width="1"/>
<text transform="translate(501.81 250.40) scale(0.955 1)" style="font-family:'Liberation Sans',sans-serif;font-size:12.6px;font-weight:normal;font-kerning:none" fill="#262626" stroke="#262626" stroke-width="0.12">1</text>
<path d="M511.7 294.45h1.5" stroke="#bfbfbf" stroke-width="1"/>
<text transform="translate(491.77 299.35) scale(0.955 1)" style="font-family:'Liberation Sans',sans-serif;font-size:12.6px;font-weight:normal;font-kerning:none" fill="#262626" stroke="#262626" stroke-width="0.12">0.5</text>
<path d="M511.7 343.41h1.5" stroke="#bfbfbf" stroke-width="1"/>
<text transform="translate(501.81 348.31) scale(0.955 1)" style="font-family:'Liberation Sans',sans-serif;font-size:12.6px;font-weight:normal;font-kerning:none" fill="#262626" stroke="#262626" stroke-width="0.12">0</text>
<path d="M511.70 353.2v-1.5" stroke="#bfbfbf" stroke-width="1"/>
<text transform="translate(508.35 369.15) scale(0.955 1)" style="font-family:'Liberation Sans',sans-serif;font-size:12.6px;font-weight:normal;font-kerning:none" fill="#262626" stroke="#262626" stroke-width="0.12">4</text>
<path d="M549.70 353.2v-1.5" stroke="#bfbfbf" stroke-width="1"/>
<text transform="translate(546.35 369.15) scale(0.955 1)" style="font-family:'Liberation Sans',sans-serif;font-size:12.6px;font-weight:normal;font-kerning:none" fill="#262626" stroke="#262626" stroke-width="0.12">6</text>
<path d="M587.70 353.2v-1.5" stroke="#bfbfbf" stroke-width="1"/>
<text transform="translate(584.35 369.15) scale(0.955 1)" style="font-family:'Liberation Sans',sans-serif;font-size:12.6px;font-weight:normal;font-kerning:none" fill="#262626" stroke="#262626" stroke-width="0.12">8</text>
<path d="M625.70 353.2v-1.5" stroke="#bfbfbf" stroke-width="1"/>
<text transform="translate(619.01 369.15) scale(0.955 1)" style="font-family:'Liberation Sans',sans-serif;font-size:12.6px;font-weight:normal;font-kerning:none" fill="#262626" stroke="#262626" stroke-width="0.12">10</text>
<g transform="translate(486.20 299.35) rotate(-90)"><text x="-65.17" y="0.00" style="font-family:'Liberation Serif',serif;font-size:13.0px;font-weight:normal;font-kerning:none" fill="#404040" stroke="#404040" stroke-width="0.12">Probability</text><text transform="translate(-2.94 0.00) scale(0.98 1)" style="font-family:'Liberation Serif',serif;font-size:13.0px;font-weight:normal;font-kerning:none" fill="#404040" stroke="#404040" stroke-width="0.12">Hypertensive</text></g>
<text x="580.57" y="381.40" style="font-family:'Liberation Serif',serif;font-size:13.5px;font-weight:normal;font-kerning:none" fill="#404040">R</text>
<text x="589.58" y="383.20" style="font-family:'Liberation Serif',serif;font-size:9.3px;font-weight:normal;font-kerning:none" fill="#404040">1</text>
<path d="M634.9 381.1l5.6 5.6m0 -5.6l-5.6 5.6" stroke="#333" stroke-width="0.85" fill="none"/>
<text transform="translate(642.30 386.80) scale(0.955 1)" style="font-family:'Liberation Sans',sans-serif;font-size:12.6px;font-weight:normal;font-kerning:none" fill="#262626" stroke="#262626" stroke-width="0.12">10</text>
<text x="655.68" y="381.70" style="font-family:'Liberation Sans',sans-serif;font-size:9.5px;font-weight:normal;font-kerning:none" fill="#262626">-4</text>
<g fill="none" stroke="#ff0000" stroke-opacity="0.55" stroke-width="0.7"><circle cx="565.6" cy="263.7" r="1.6"/><circle cx="588.1" cy="265.8" r="1.6"/><circle cx="578.3" cy="277.6" r="1.6"/><circle cx="575.7" cy="282" r="1.6"/><circle cx="580.9" cy="282.3" r="1.6"/><circle cx="586" cy="283.3" r="1.6"/><circle cx="589.1" cy="284.8" r="1.6"/><circle cx="586.5" cy="288.1" r="1.6"/><circle cx="574.2" cy="287.7" r="1.6"/><circle cx="572.8" cy="290" r="1.6"/><circle cx="594.3" cy="287.9" r="1.6"/><circle cx="595.8" cy="290.5" r="1.6"/><circle cx="592.4" cy="291.8" r="1.6"/><circle cx="597.3" cy="293.6" r="1.6"/><circle cx="594.3" cy="293.9" r="1.6"/><circle cx="588.9" cy="304.2" r="1.6"/><circle cx="554.1" cy="314.2" r="1.6"/><circle cx="595.3" cy="309" r="1.6"/><circle cx="553.9" cy="315.3" r="1.6"/><circle cx="583.3" cy="328.9" r="1.6"/><circle cx="590.3" cy="332" r="1.6"/><circle cx="604.3" cy="322.8" r="1.6"/><circle cx="606" cy="327.1" r="1.6"/><circle cx="596.8" cy="310.9" r="1.6"/><circle cx="619.8" cy="336.4" r="1.6"/></g>
<g fill="none" stroke="#0000ff" stroke-opacity="0.55" stroke-width="0.7"><circle cx="576.2" cy="267.9" r="1.6"/><circle cx="583.4" cy="273.3" r="1.6"/><circle cx="587" cy="280.2" r="1.6"/><circle cx="579.8" cy="285.9" r="1.6"/><circle cx="595.8" cy="287.7" r="1.6"/><circle cx="594.8" cy="294.1" r="1.6"/><circle cx="588.1" cy="295.1" r="1.6"/><circle cx="595.8" cy="299" r="1.6"/><circle cx="605.8" cy="302.9" r="1.6"/><circle cx="584.5" cy="304.9" r="1.6"/><circle cx="592" cy="304.9" r="1.6"/><circle cx="584" cy="311.6" r="1.6"/><circle cx="587.9" cy="310.6" r="1.6"/><circle cx="569" cy="313.5" r="1.6"/><circle cx="572.6" cy="312.4" r="1.6"/><circle cx="595.5" cy="309.6" r="1.6"/><circle cx="588.5" cy="318" r="1.6"/><circle cx="595.1" cy="320.1" r="1.6"/><circle cx="598.6" cy="318.8" r="1.6"/><circle cx="575" cy="322.9" r="1.6"/><circle cx="600.3" cy="325" r="1.6"/><circle cx="602.1" cy="322.8" r="1.6"/><circle cx="609.1" cy="316.2" r="1.6"/><circle cx="578.9" cy="332" r="1.6"/><circle cx="558.8" cy="336.3" r="1.6"/><circle cx="585.9" cy="332" r="1.6"/><circle cx="586.8" cy="334.6" r="1.6"/><circle cx="586.1" cy="333.5" r="1.6"/><circle cx="589.6" cy="333.5" r="1.6"/><circle cx="593.1" cy="333.5" r="1.6"/><circle cx="596.2" cy="333.5" r="1.6"/><circle cx="599.7" cy="333.5" r="1.6"/><circle cx="601" cy="333.5" r="1.6"/><circle cx="587.9" cy="336.6" r="1.6"/><circle cx="591.4" cy="336.6" r="1.6"/><circle cx="594.9" cy="336.6" r="1.6"/><circle cx="598.4" cy="336.6" r="1.6"/><circle cx="601.9" cy="336.6" r="1.6"/><circle cx="585.3" cy="339.2" r="1.6"/><circle cx="589.6" cy="339.2" r="1.6"/><circle cx="593.1" cy="339.2" r="1.6"/><circle cx="596.6" cy="339.2" r="1.6"/><circle cx="600.1" cy="339.2" r="1.6"/><circle cx="581.8" cy="339.9" r="1.6"/><circle cx="603.6" cy="341.6" r="1.6"/><circle cx="606.3" cy="338.1" r="1.6"/><circle cx="608.9" cy="336.4" r="1.6"/><circle cx="608" cy="341.6" r="1.6"/><circle cx="610.6" cy="339.9" r="1.6"/><circle cx="614.2" cy="341.6" r="1.6"/><circle cx="618.1" cy="339" r="1.6"/><circle cx="624.7" cy="341.6" r="1.6"/><circle cx="591" cy="341.5" r="1.6"/><circle cx="595" cy="341.5" r="1.6"/><circle cx="603.2" cy="333.5" r="1.6"/><circle cx="595.8" cy="334.6" r="1.6"/><circle cx="584.1" cy="336.2" r="1.6"/><circle cx="591.4" cy="337.7" r="1.6"/><circle cx="603.1" cy="338.9" r="1.6"/></g>
<ellipse cx="587.7" cy="299.4" rx="13.5" ry="21.2" fill="none" stroke="#ff0000" stroke-width="0.9"/>
<ellipse cx="593.8" cy="326.8" rx="11.3" ry="18.6" fill="none" stroke="#0000ff" stroke-width="0.9"/>
<circle cx="587.6" cy="299.3" r="3.45" fill="#ff0000"/>
<circle cx="593.8" cy="326.7" r="3.45" fill="#0000ff"/>
<path d="M34.5 440.5V551.5H186.5" fill="none" stroke="#bfbfbf" stroke-width="1"/>
<path d="M34.5 440.50h1.5" stroke="#bfbfbf" stroke-width="1"/>
<text transform="translate(24.61 445.40) scale(0.955 1)" style="font-family:'Liberation Sans',sans-serif;font-size:12.6px;font-weight:normal;font-kerning:none" fill="#262626" stroke="#262626" stroke-width="0.12">1</text>
<path d="M34.5 490.95h1.5" stroke="#bfbfbf" stroke-width="1"/>
<text transform="translate(14.57 495.85) scale(0.955 1)" style="font-family:'Liberation Sans',sans-serif;font-size:12.6px;font-weight:normal;font-kerning:none" fill="#262626" stroke="#262626" stroke-width="0.12">0.5</text>
<path d="M34.5 541.41h1.5" stroke="#bfbfbf" stroke-width="1"/>
<text transform="translate(24.61 546.31) scale(0.955 1)" style="font-family:'Liberation Sans',sans-serif;font-size:12.6px;font-weight:normal;font-kerning:none" fill="#262626" stroke="#262626" stroke-width="0.12">0</text>
<path d="M34.50 551.5v-1.5" stroke="#bfbfbf" stroke-width="1"/>
<text transform="translate(31.15 566.95) scale(0.955 1)" style="font-family:'Liberation Sans',sans-serif;font-size:12.6px;font-weight:normal;font-kerning:none" fill="#262626" stroke="#262626" stroke-width="0.12">0</text>
<path d="M85.17 551.5v-1.5" stroke="#bfbfbf" stroke-width="1"/>
<text transform="translate(73.46 566.95) scale(0.955 1)" style="font-family:'Liberation Sans',sans-serif;font-size:12.6px;font-weight:normal;font-kerning:none" fill="#262626" stroke="#262626" stroke-width="0.12">0.01</text>
<path d="M135.83 551.5v-1.5" stroke="#bfbfbf" stroke-width="1"/>
<text transform="translate(124.12 566.95) scale(0.955 1)" style="font-family:'Liberation Sans',sans-serif;font-size:12.6px;font-weight:normal;font-kerning:none" fill="#262626" stroke="#262626" stroke-width="0.12">0.02</text>
<path d="M186.50 551.5v-1.5" stroke="#bfbfbf" stroke-width="1"/>
<text transform="translate(174.79 566.95) scale(0.955 1)" style="font-family:'Liberation Sans',sans-serif;font-size:12.6px;font-weight:normal;font-kerning:none" fill="#262626" stroke="#262626" stroke-width="0.12">0.03</text>
<g transform="translate(9.00 496.00) rotate(-90)"><text x="-65.17" y="0.00" style="font-family:'Liberation Serif',serif;font-size:13.0px;font-weight:normal;font-kerning:none" fill="#404040" stroke="#404040" stroke-width="0.12">Probability</text><text transform="translate(-2.94 0.00) scale(0.98 1)" style="font-family:'Liberation Serif',serif;font-size:13.0px;font-weight:normal;font-kerning:none" fill="#404040" stroke="#404040" stroke-width="0.12">Hypertensive</text></g>
<text x="103.37" y="579.70" style="font-family:'Liberation Serif',serif;font-size:13.5px;font-weight:normal;font-kerning:none" fill="#404040">R</text>
<text x="112.38" y="581.50" style="font-family:'Liberation Serif',serif;font-size:9.3px;font-weight:normal;font-kerning:none" fill="#404040">2</text>
<g fill="none" stroke="#ff0000" stroke-opacity="0.55" stroke-width="0.7"><circle cx="70.3" cy="455" r="1.6"/><circle cx="63.6" cy="460.7" r="1.6"/><circle cx="66.4" cy="472.7" r="1.6"/><circle cx="68.6" cy="475.7" r="1.6"/><circle cx="70.7" cy="482.6" r="1.6"/><circle cx="69.4" cy="486" r="1.6"/><circle cx="66" cy="487.7" r="1.6"/><circle cx="73.2" cy="517.6" r="1.6"/><circle cx="69.4" cy="521.4" r="1.6"/><circle cx="70.4" cy="523.3" r="1.6"/><circle cx="81.7" cy="539.8" r="1.6"/><circle cx="72.7" cy="503.5" r="1.6"/><circle cx="71.5" cy="478" r="1.6"/><circle cx="70" cy="498" r="1.6"/><circle cx="72" cy="510" r="1.6"/></g>
<g fill="none" stroke="#0000ff" stroke-opacity="0.55" stroke-width="0.7"><circle cx="66.4" cy="463.3" r="1.6"/><circle cx="69.9" cy="474" r="1.6"/><circle cx="68.1" cy="479.1" r="1.6"/><circle cx="68.1" cy="481.3" r="1.6"/><circle cx="66.9" cy="487.7" r="1.6"/><circle cx="69.4" cy="490.7" r="1.6"/><circle cx="70.8" cy="502.5" r="1.6"/><circle cx="71.8" cy="504.4" r="1.6"/><circle cx="70.4" cy="507.3" r="1.6"/><circle cx="71.3" cy="510.1" r="1.6"/><circle cx="70.4" cy="512.9" r="1.6"/><circle cx="77.5" cy="512.5" r="1.6"/><circle cx="70.4" cy="518.6" r="1.6"/><circle cx="73.2" cy="518.6" r="1.6"/><circle cx="76" cy="518.1" r="1.6"/><circle cx="70.4" cy="522.4" r="1.6"/><circle cx="69.9" cy="527.5" r="1.6"/><circle cx="70.4" cy="530.4" r="1.6"/><circle cx="73.2" cy="531.8" r="1.6"/><circle cx="75.6" cy="532.7" r="1.6"/><circle cx="77" cy="534.6" r="1.6"/><circle cx="74.2" cy="535.6" r="1.6"/><circle cx="75.6" cy="537.5" r="1.6"/><circle cx="77.9" cy="536.5" r="1.6"/><circle cx="79.8" cy="538.4" r="1.6"/><circle cx="74.2" cy="538.9" r="1.6"/><circle cx="76.5" cy="541.2" r="1.6"/><circle cx="82.6" cy="540.3" r="1.6"/><circle cx="85.5" cy="541.2" r="1.6"/><circle cx="88.3" cy="541.2" r="1.6"/><circle cx="90.7" cy="541.2" r="1.6"/><circle cx="72" cy="525" r="1.6"/><circle cx="73" cy="540" r="1.6"/><circle cx="78" cy="540" r="1.6"/><circle cx="80" cy="541.5" r="1.6"/><circle cx="78.8" cy="531.5" r="1.6"/><circle cx="81.0" cy="538.8" r="1.6"/><circle cx="75.9" cy="535.0" r="1.6"/><circle cx="73.0" cy="537.3" r="1.6"/></g>
<ellipse cx="70.6" cy="494.9" rx="3.9" ry="24.0" transform="rotate(1.5 70.6 494.9)" fill="none" stroke="#ff0000" stroke-width="0.9"/>
<ellipse cx="76.2" cy="525.8" rx="5.1" ry="18.4" transform="rotate(2.5 76.2 525.8)" fill="none" stroke="#0000ff" stroke-width="0.9"/>
<circle cx="70.3" cy="494.5" r="3.45" fill="#ff0000"/>
<circle cx="76.2" cy="525.3" r="3.45" fill="#0000ff"/>
<path d="M271.4 440.5V551.5H423.4" fill="none" stroke="#bfbfbf" stroke-width="1"/>
<path d="M271.4 440.50h1.5" stroke="#bfbfbf" stroke-width="1"/>
<text transform="translate(261.51 445.40) scale(0.955 1)" style="font-family:'Liberation Sans',sans-serif;font-size:12.6px;font-weight:normal;font-kerning:none" fill="#262626" stroke="#262626" stroke-width="0.12">1</text>
<path d="M271.4 490.95h1.5" stroke="#bfbfbf" stroke-width="1"/>
<text transform="translate(251.47 495.85) scale(0.955 1)" style="font-family:'Liberation Sans',sans-serif;font-size:12.6px;font-weight:normal;font-kerning:none" fill="#262626" stroke="#262626" stroke-width="0.12">0.5</text>
<path d="M271.4 541.41h1.5" stroke="#bfbfbf" stroke-width="1"/>
<text transform="translate(261.51 546.31) scale(0.955 1)" style="font-family:'Liberation Sans',sans-serif;font-size:12.6px;font-weight:normal;font-kerning:none" fill="#262626" stroke="#262626" stroke-width="0.12">0</text>
<path d="M271.40 551.5v-1.5" stroke="#bfbfbf" stroke-width="1"/>
<text transform="translate(268.05 566.95) scale(0.955 1)" style="font-family:'Liberation Sans',sans-serif;font-size:12.6px;font-weight:normal;font-kerning:none" fill="#262626" stroke="#262626" stroke-width="0.12">0</text>
<path d="M322.07 551.5v-1.5" stroke="#bfbfbf" stroke-width="1"/>
<text transform="translate(310.36 566.95) scale(0.955 1)" style="font-family:'Liberation Sans',sans-serif;font-size:12.6px;font-weight:normal;font-kerning:none" fill="#262626" stroke="#262626" stroke-width="0.12">0.01</text>
<path d="M372.73 551.5v-1.5" stroke="#bfbfbf" stroke-width="1"/>
<text transform="translate(361.02 566.95) scale(0.955 1)" style="font-family:'Liberation Sans',sans-serif;font-size:12.6px;font-weight:normal;font-kerning:none" fill="#262626" stroke="#262626" stroke-width="0.12">0.02</text>
<path d="M423.40 551.5v-1.5" stroke="#bfbfbf" stroke-width="1"/>
<text transform="translate(411.69 566.95) scale(0.955 1)" style="font-family:'Liberation Sans',sans-serif;font-size:12.6px;font-weight:normal;font-kerning:none" fill="#262626" stroke="#262626" stroke-width="0.12">0.03</text>
<g transform="translate(245.90 496.00) rotate(-90)"><text x="-65.17" y="0.00" style="font-family:'Liberation Serif',serif;font-size:13.0px;font-weight:normal;font-kerning:none" fill="#404040" stroke="#404040" stroke-width="0.12">Probability</text><text transform="translate(-2.94 0.00) scale(0.98 1)" style="font-family:'Liberation Serif',serif;font-size:13.0px;font-weight:normal;font-kerning:none" fill="#404040" stroke="#404040" stroke-width="0.12">Hypertensive</text></g>
<text x="340.27" y="579.70" style="font-family:'Liberation Serif',serif;font-size:13.5px;font-weight:normal;font-kerning:none" fill="#404040">R</text>
<text x="349.28" y="581.50" style="font-family:'Liberation Serif',serif;font-size:9.3px;font-weight:normal;font-kerning:none" fill="#404040">2</text>
<g fill="none" stroke="#ff0000" stroke-opacity="0.55" stroke-width="0.7"><circle cx="319.1" cy="459.8" r="1.6"/><circle cx="317" cy="463.9" r="1.6"/><circle cx="366.4" cy="465.6" r="1.6"/><circle cx="330.6" cy="470.6" r="1.6"/><circle cx="333.7" cy="471.6" r="1.6"/><circle cx="333.5" cy="475.2" r="1.6"/><circle cx="336.2" cy="474.2" r="1.6"/><circle cx="339.3" cy="475.5" r="1.6"/><circle cx="340.9" cy="478.6" r="1.6"/><circle cx="348.3" cy="477.8" r="1.6"/><circle cx="330.4" cy="482.9" r="1.6"/><circle cx="340.4" cy="482.7" r="1.6"/><circle cx="343.4" cy="483.8" r="1.6"/><circle cx="337.3" cy="486.8" r="1.6"/><circle cx="363" cy="488.9" r="1.6"/><circle cx="352.7" cy="502" r="1.6"/><circle cx="342.9" cy="508.5" r="1.6"/><circle cx="347.1" cy="516.6" r="1.6"/><circle cx="355.5" cy="528" r="1.6"/><circle cx="373.9" cy="528" r="1.6"/><circle cx="369.9" cy="533.3" r="1.6"/><circle cx="372.3" cy="534.1" r="1.6"/></g>
<g fill="none" stroke="#0000ff" stroke-opacity="0.55" stroke-width="0.7"><circle cx="324.4" cy="458" r="1.6"/><circle cx="342.9" cy="472.1" r="1.6"/><circle cx="345.8" cy="481.7" r="1.6"/><circle cx="344" cy="484" r="1.6"/><circle cx="349.1" cy="486.5" r="1.6"/><circle cx="345" cy="487" r="1.6"/><circle cx="341.9" cy="488.9" r="1.6"/><circle cx="337" cy="490.7" r="1.6"/><circle cx="334.2" cy="492.7" r="1.6"/><circle cx="339" cy="497.3" r="1.6"/><circle cx="337.8" cy="497.9" r="1.6"/><circle cx="349.1" cy="496.1" r="1.6"/><circle cx="360.2" cy="505.1" r="1.6"/><circle cx="346.5" cy="509.2" r="1.6"/><circle cx="361.2" cy="505.3" r="1.6"/><circle cx="354.6" cy="511.2" r="1.6"/><circle cx="364.8" cy="511.8" r="1.6"/><circle cx="376" cy="514.9" r="1.6"/><circle cx="345" cy="516.2" r="1.6"/><circle cx="334" cy="520.6" r="1.6"/><circle cx="345" cy="523.8" r="1.6"/><circle cx="364.7" cy="522.3" r="1.6"/><circle cx="376.5" cy="522.8" r="1.6"/><circle cx="376.9" cy="526.3" r="1.6"/><circle cx="360.3" cy="525.8" r="1.6"/><circle cx="358.5" cy="528.5" r="1.6"/><circle cx="362.5" cy="529.8" r="1.6"/><circle cx="348" cy="535.9" r="1.6"/><circle cx="352" cy="537.7" r="1.6"/><circle cx="355.9" cy="535" r="1.6"/><circle cx="357.7" cy="535.9" r="1.6"/><circle cx="358.5" cy="538.5" r="1.6"/><circle cx="363.3" cy="535.9" r="1.6"/><circle cx="366.4" cy="538.5" r="1.6"/><circle cx="368.2" cy="532.4" r="1.6"/><circle cx="370.8" cy="535" r="1.6"/><circle cx="372.5" cy="536.8" r="1.6"/><circle cx="370.8" cy="537.7" r="1.6"/><circle cx="375.2" cy="534.2" r="1.6"/><circle cx="376.9" cy="536.8" r="1.6"/><circle cx="377.8" cy="538.5" r="1.6"/><circle cx="388.5" cy="531" r="1.6"/><circle cx="378.4" cy="535.8" r="1.6"/><circle cx="376.6" cy="538" r="1.6"/><circle cx="380.1" cy="538" r="1.6"/><circle cx="382.8" cy="538.9" r="1.6"/><circle cx="385.4" cy="539.8" r="1.6"/><circle cx="388" cy="538.9" r="1.6"/><circle cx="390.6" cy="540.2" r="1.6"/><circle cx="393.3" cy="536.3" r="1.6"/><circle cx="393.3" cy="539.3" r="1.6"/><circle cx="395.9" cy="538" r="1.6"/><circle cx="397.2" cy="540.2" r="1.6"/><circle cx="404.2" cy="538.9" r="1.6"/><circle cx="368.8" cy="533.6" r="1.6"/><circle cx="371.4" cy="536.3" r="1.6"/><circle cx="369.6" cy="538" r="1.6"/><circle cx="373.1" cy="535.4" r="1.6"/><circle cx="315.8" cy="513.2" r="1.6"/><circle cx="383.8" cy="507" r="1.6"/><circle cx="364.1" cy="533.5" r="1.6"/><circle cx="373.2" cy="533.4" r="1.6"/><circle cx="362.0" cy="534.1" r="1.6"/><circle cx="365.3" cy="535.7" r="1.6"/><circle cx="362.8" cy="539.6" r="1.6"/><circle cx="382.3" cy="534.1" r="1.6"/></g>
<ellipse cx="346.3" cy="493.2" rx="16.0" ry="24.8" fill="none" stroke="#ff0000" stroke-width="0.9"/>
<ellipse cx="366.8" cy="526.0" rx="18.3" ry="18.7" fill="none" stroke="#0000ff" stroke-width="0.9"/>
<circle cx="346.2" cy="493.2" r="3.45" fill="#ff0000"/>
<circle cx="366.8" cy="526.0" r="3.45" fill="#0000ff"/>
<path d="M511.7 440.5V551.5H663.7" fill="none" stroke="#bfbfbf" stroke-width="1"/>
<path d="M511.7 440.50h1.5" stroke="#bfbfbf" stroke-width="1"/>
<text transform="translate(501.81 445.40) scale(0.955 1)" style="font-family:'Liberation Sans',sans-serif;font-size:12.6px;font-weight:normal;font-kerning:none" fill="#262626" stroke="#262626" stroke-width="0.12">1</text>
<path d="M511.7 490.95h1.5" stroke="#bfbfbf" stroke-width="1"/>
<text transform="translate(491.77 495.85) scale(0.955 1)" style="font-family:'Liberation Sans',sans-serif;font-size:12.6px;font-weight:normal;font-kerning:none" fill="#262626" stroke="#262626" stroke-width="0.12">0.5</text>
<path d="M511.7 541.41h1.5" stroke="#bfbfbf" stroke-width="1"/>
<text transform="translate(501.81 546.31) scale(0.955 1)" style="font-family:'Liberation Sans',sans-serif;font-size:12.6px;font-weight:normal;font-kerning:none" fill="#262626" stroke="#262626" stroke-width="0.12">0</text>
<path d="M511.70 551.5v-1.5" stroke="#bfbfbf" stroke-width="1"/>
<text transform="translate(508.35 566.95) scale(0.955 1)" style="font-family:'Liberation Sans',sans-serif;font-size:12.6px;font-weight:normal;font-kerning:none" fill="#262626" stroke="#262626" stroke-width="0.12">0</text>
<path d="M562.37 551.5v-1.5" stroke="#bfbfbf" stroke-width="1"/>
<text transform="translate(550.66 566.95) scale(0.955 1)" style="font-family:'Liberation Sans',sans-serif;font-size:12.6px;font-weight:normal;font-kerning:none" fill="#262626" stroke="#262626" stroke-width="0.12">0.01</text>
<path d="M613.03 551.5v-1.5" stroke="#bfbfbf" stroke-width="1"/>
<text transform="translate(601.32 566.95) scale(0.955 1)" style="font-family:'Liberation Sans',sans-serif;font-size:12.6px;font-weight:normal;font-kerning:none" fill="#262626" stroke="#262626" stroke-width="0.12">0.02</text>
<path d="M663.70 551.5v-1.5" stroke="#bfbfbf" stroke-width="1"/>
<text transform="translate(651.99 566.95) scale(0.955 1)" style="font-family:'Liberation Sans',sans-serif;font-size:12.6px;font-weight:normal;font-kerning:none" fill="#262626" stroke="#262626" stroke-width="0.12">0.03</text>
<g transform="translate(486.20 496.00) rotate(-90)"><text x="-65.17" y="0.00" style="font-family:'Liberation Serif',serif;font-size:13.0px;font-weight:normal;font-kerning:none" fill="#404040" stroke="#404040" stroke-width="0.12">Probability</text><text transform="translate(-2.94 0.00) scale(0.98 1)" style="font-family:'Liberation Serif',serif;font-size:13.0px;font-weight:normal;font-kerning:none" fill="#404040" stroke="#404040" stroke-width="0.12">Hypertensive</text></g>
<text x="580.57" y="579.70" style="font-family:'Liberation Serif',serif;font-size:13.5px;font-weight:normal;font-kerning:none" fill="#404040">R</text>
<text x="589.58" y="581.50" style="font-family:'Liberation Serif',serif;font-size:9.3px;font-weight:normal;font-kerning:none" fill="#404040">2</text>
<g fill="none" stroke="#ff0000" stroke-opacity="0.55" stroke-width="0.7"><circle cx="572.9" cy="457.7" r="1.6"/><circle cx="601.1" cy="453.9" r="1.6"/><circle cx="595.9" cy="475.5" r="1.6"/><circle cx="599.8" cy="481.4" r="1.6"/><circle cx="599.8" cy="482.9" r="1.6"/><circle cx="586" cy="486.8" r="1.6"/><circle cx="599.3" cy="487.9" r="1.6"/><circle cx="605.8" cy="486.8" r="1.6"/><circle cx="615.8" cy="486" r="1.6"/><circle cx="609.9" cy="491.7" r="1.6"/><circle cx="609.1" cy="495.3" r="1.6"/><circle cx="597.8" cy="492.7" r="1.6"/><circle cx="613.2" cy="489.1" r="1.6"/><circle cx="596.2" cy="503.3" r="1.6"/><circle cx="611.7" cy="506.6" r="1.6"/><circle cx="593.4" cy="514" r="1.6"/><circle cx="607" cy="514" r="1.6"/><circle cx="603.2" cy="526.7" r="1.6"/><circle cx="615.3" cy="532.8" r="1.6"/><circle cx="617" cy="534.2" r="1.6"/></g>
<g fill="none" stroke="#0000ff" stroke-opacity="0.55" stroke-width="0.7"><circle cx="591.1" cy="479.3" r="1.6"/><circle cx="592.6" cy="482.1" r="1.6"/><circle cx="586.5" cy="484" r="1.6"/><circle cx="608.1" cy="484" r="1.6"/><circle cx="611.2" cy="482.9" r="1.6"/><circle cx="610.1" cy="486" r="1.6"/><circle cx="603.4" cy="493.2" r="1.6"/><circle cx="591.8" cy="495" r="1.6"/><circle cx="599" cy="496.1" r="1.6"/><circle cx="625.1" cy="493.7" r="1.6"/><circle cx="618.9" cy="499.2" r="1.6"/><circle cx="613" cy="499.4" r="1.6"/><circle cx="611.7" cy="501.5" r="1.6"/><circle cx="595.2" cy="500.6" r="1.6"/><circle cx="595.7" cy="504.5" r="1.6"/><circle cx="586.3" cy="503.7" r="1.6"/><circle cx="614.3" cy="504.5" r="1.6"/><circle cx="624.3" cy="507.1" r="1.6"/><circle cx="582.3" cy="509.2" r="1.6"/><circle cx="595.1" cy="503.5" r="1.6"/><circle cx="593.8" cy="518.8" r="1.6"/><circle cx="599.5" cy="520.6" r="1.6"/><circle cx="605.6" cy="521" r="1.6"/><circle cx="608.7" cy="521.5" r="1.6"/><circle cx="614.8" cy="520.6" r="1.6"/><circle cx="593.8" cy="528" r="1.6"/><circle cx="595.1" cy="528.5" r="1.6"/><circle cx="606.1" cy="528.9" r="1.6"/><circle cx="610.9" cy="529.8" r="1.6"/><circle cx="616.2" cy="528.9" r="1.6"/><circle cx="617.9" cy="527.1" r="1.6"/><circle cx="598.6" cy="531.1" r="1.6"/><circle cx="601.3" cy="533.3" r="1.6"/><circle cx="605.2" cy="533.3" r="1.6"/><circle cx="608.3" cy="534.2" r="1.6"/><circle cx="594.7" cy="534.2" r="1.6"/><circle cx="597.3" cy="537.7" r="1.6"/><circle cx="602.1" cy="538.5" r="1.6"/><circle cx="605.6" cy="536.8" r="1.6"/><circle cx="608.3" cy="537.7" r="1.6"/><circle cx="611.8" cy="536.8" r="1.6"/><circle cx="615.3" cy="538.5" r="1.6"/><circle cx="610" cy="539.4" r="1.6"/><circle cx="613.5" cy="540.3" r="1.6"/><circle cx="619.7" cy="536.8" r="1.6"/><circle cx="621.4" cy="537.7" r="1.6"/><circle cx="624" cy="536.8" r="1.6"/><circle cx="625.8" cy="537.7" r="1.6"/><circle cx="627.5" cy="538.5" r="1.6"/><circle cx="629.3" cy="539.4" r="1.6"/><circle cx="622.3" cy="540.3" r="1.6"/><circle cx="624.9" cy="540.3" r="1.6"/><circle cx="634.5" cy="538.5" r="1.6"/><circle cx="638.1" cy="538.1" r="1.6"/><circle cx="618" cy="537.5" r="1.6"/><circle cx="620.5" cy="539.5" r="1.6"/><circle cx="622.5" cy="536.2" r="1.6"/><circle cx="626.5" cy="539.2" r="1.6"/><circle cx="628.2" cy="537.2" r="1.6"/><circle cx="630.5" cy="540" r="1.6"/><circle cx="617" cy="540.5" r="1.6"/></g>
<ellipse cx="603.2" cy="497.2" rx="10.3" ry="22.1" fill="none" stroke="#ff0000" stroke-width="0.9"/>
<ellipse cx="611.6" cy="524.6" rx="12.0" ry="18.1" fill="none" stroke="#0000ff" stroke-width="0.9"/>
<circle cx="603.1" cy="497.3" r="3.45" fill="#ff0000"/>
<circle cx="611.7" cy="525.0" r="3.45" fill="#0000ff"/></svg></body></html>
